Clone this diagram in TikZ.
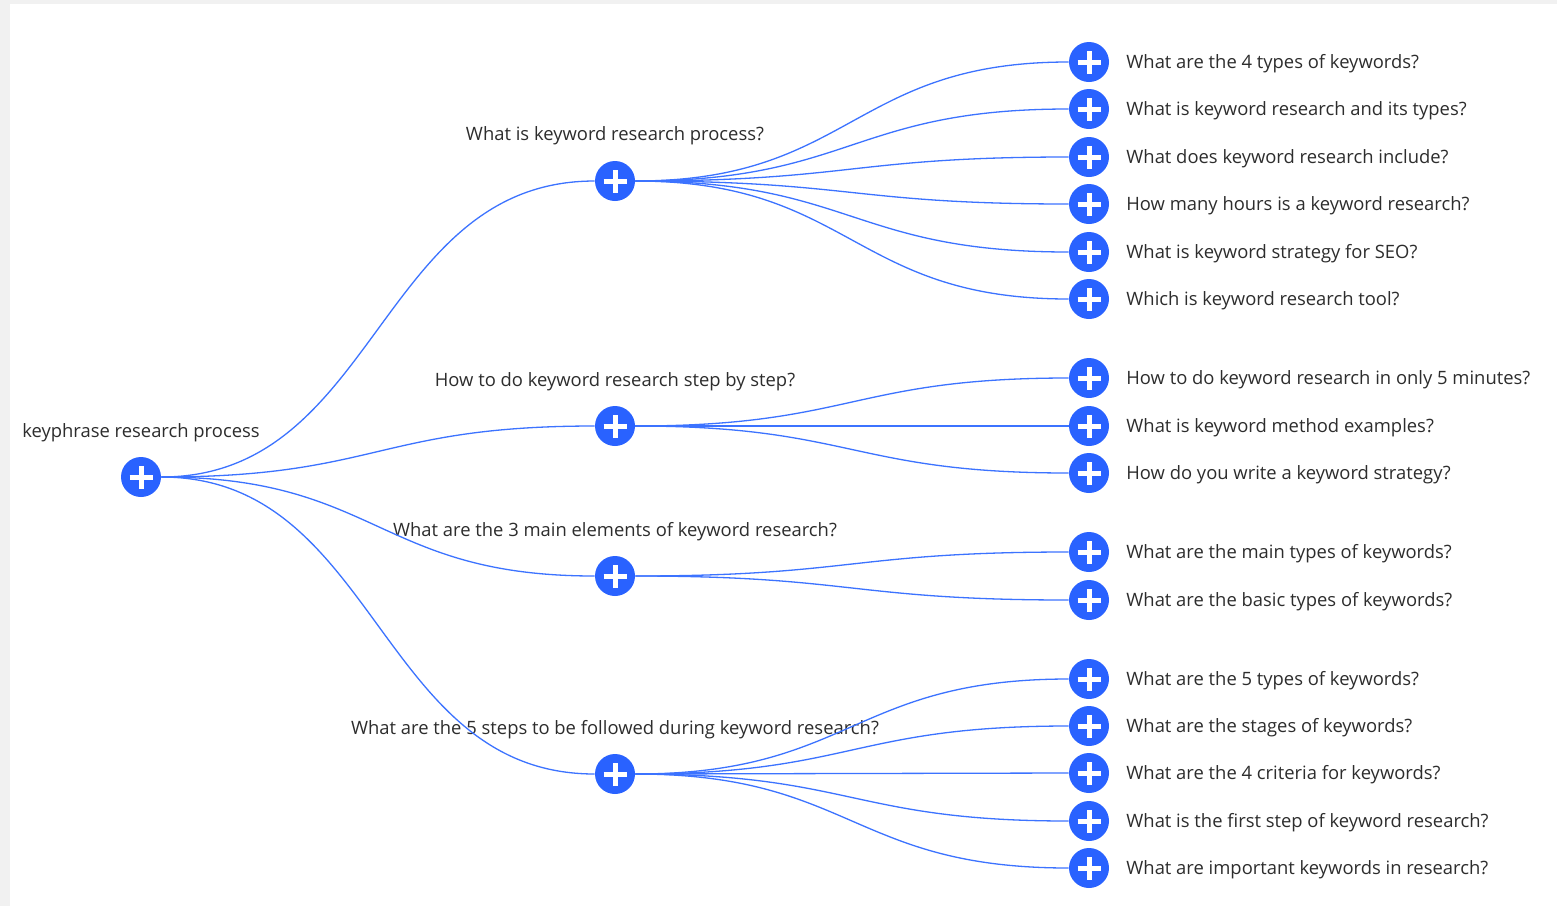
\documentclass[tikz,border=0pt]{standalone}
\usepackage{fontspec}
\setmainfont{Open Sans}
\usetikzlibrary{calc}
\definecolor{nodeblue}{RGB}{41,98,255}
\definecolor{edgeblue}{RGB}{60,115,255}
\definecolor{txt}{RGB}{45,45,45}
\definecolor{bgc}{RGB}{241,241,241}
\tikzset{
  plusnode/.style={circle, fill=nodeblue, minimum size=20pt, inner sep=0pt,
    path picture={
      \draw[white,line width=2.5pt] ([xshift=-5.75pt]path picture bounding box.center) -- ([xshift=5.75pt]path picture bounding box.center);
      \draw[white,line width=2.5pt] ([yshift=-5.75pt]path picture bounding box.center) -- ([yshift=5.75pt]path picture bounding box.center);
    }},
  edge/.style={draw=edgeblue, line width=0.65pt},
  lbl/.style={text=txt, font=\fontsize{9.2pt}{11pt}\selectfont, inner sep=0pt, yshift=-1pt},
  leaf/.style={lbl, anchor=west},
}
\newcommand\link[2]{\draw[edge] let \p1=(#1.east), \p2=(#2.west) in (\p1) .. controls ({(\x1+\x2)/2},\y1) and ({(\x1+\x2)/2},\y2) .. (\p2);}
\begin{document}
\begin{tikzpicture}[x=0.5pt,y=-0.5pt]
\fill[bgc] (0,0) rectangle (1557,906);
\fill[white] (10,4) rectangle (1557,906);
\useasboundingbox (0,0) rectangle (1557,906);

% root
\node[plusnode] (r) at (141,477) {};
\node[lbl] (rl) at (141,431) {keyphrase research process};

% level 1
\node[plusnode] (a) at (615,181) {};
\node[plusnode] (b) at (615,426) {};
\node[plusnode] (c) at (615,576) {};
\node[plusnode] (d) at (615,774) {};
\node[lbl] (al) at (615,134) {What is keyword research process?};
\node[lbl] (bl) at (615,380) {How to do keyword research step by step?};
\node[lbl] (cl) at (615,530) {What are the 3 main elements of keyword research?};
\node[lbl] (dl) at (615,728) {What are the 5 steps to be followed during keyword research?};

% level 2
\foreach \n/\y/\t in {
 a1/62/{What are the 4 types of keywords?},
 a2/109/{What is keyword research and its types?},
 a3/157/{What does keyword research include?},
 a4/204/{How many hours is a keyword research?},
 a5/252/{What is keyword strategy for SEO?},
 a6/299/{Which is keyword research tool?},
 b1/378/{How to do keyword research in only 5 minutes?},
 b2/426/{What is keyword method examples?},
 b3/473/{How do you write a keyword strategy?},
 c1/552/{What are the main types of keywords?},
 c2/600/{What are the basic types of keywords?},
 d1/679/{What are the 5 types of keywords?},
 d2/726/{What are the stages of keywords?},
 d3/773/{What are the 4 criteria for keywords?},
 d4/821/{What is the first step of keyword research?},
 d5/868/{What are important keywords in research?}}{
  \node[plusnode] (\n) at (1089,\y) {};
  \node[leaf] (\n l) at (1126,\y) {\t};
}

% edges
\link{r}{a}\link{r}{b}\link{r}{c}\link{r}{d}
\link{a}{a1}\link{a}{a2}\link{a}{a3}\link{a}{a4}\link{a}{a5}\link{a}{a6}
\link{b}{b1}\link{b}{b2}\link{b}{b3}
\link{c}{c1}\link{c}{c2}
\link{d}{d1}\link{d}{d2}\link{d}{d3}\link{d}{d4}\link{d}{d5}
\end{tikzpicture}
\end{document}
